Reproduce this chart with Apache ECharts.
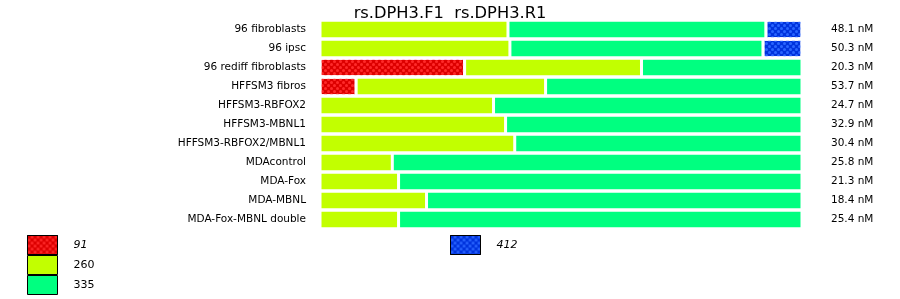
<!DOCTYPE html>
<html>
<head>
<meta charset="utf-8">
<script src="https://cdn.jsdelivr.net/npm/echarts@6/dist/echarts.min.js"></script>
<style>html,body{margin:0;padding:0;background:#fff}#c{width:900px;height:299px}</style>
</head>
<body>
<div id="c"></div>
<script>
var titleText = 'rs.DPH3.F1  rs.DPH3.R1';
var categories = ['96 fibroblasts','96 ipsc','96 rediff fibroblasts','HFFSM3 fibros','HFFSM3-RBFOX2','HFFSM3-MBNL1','HFFSM3-RBFOX2/MBNL1','MDAcontrol','MDA-Fox','MDA-MBNL','MDA-Fox-MBNL double'];
var concentrations = ['48.1 nM','50.3 nM','20.3 nM','53.7 nM','24.7 nM','32.9 nM','30.4 nM','25.8 nM','21.3 nM','18.4 nM','25.4 nM'];
var seriesNames = ['91','260','335','412'];
var s91  = [0, 0, 30.0, 7.5, 0, 0, 0, 0, 0, 0, 0];
var s260 = [39.0, 39.4, 36.7, 39.3, 36.0, 38.5, 40.4, 15.0, 16.3, 22.1, 16.3];
var s335 = [53.5, 52.5, 33.3, 53.2, 64.0, 61.5, 59.6, 85.0, 83.7, 77.9, 83.7];
var s412 = [7.5, 8.1, 0, 0, 0, 0, 0, 0, 0, 0, 0];

var FONT = 'DejaVu Sans';
var redDecal = { symbol: 'circle', symbolSize: 1, color: '#ff2a2a', dashArrayX: [[3, 3], [0, 3, 3, 0]], dashArrayY: [3, 0] };
var blueDecal = { symbol: 'circle', symbolSize: 1, color: '#2a66ff', dashArrayX: [[3, 3], [0, 3, 3, 0]], dashArrayY: [3, 0] };

var colors = ['#dd0000', '#c2ff00', '#00ff80', '#0033dd'];
var decals = [redDecal, null, null, blueDecal];
var dataArr = [s91, s260, s335, s412];

var series = seriesNames.map(function (n, i) {
  var st = { color: colors[i], borderColor: '#ffffff', borderWidth: 1.5 };
  if (decals[i]) st.decal = decals[i];
  return {
    name: n, type: 'bar', stack: 'all', barWidth: 18.5,
    data: dataArr[i].map(function (v) { return v === 0 ? null : v; }),
    itemStyle: st, emphasis: { disabled: true }, silent: true
  };
});

var legendBase = {
  orient: 'vertical', top: 235, height: 64, padding: 0,
  itemWidth: 30, itemHeight: 19, itemGap: 0,
  icon: 'rect', selectedMode: false,
  itemStyle: { borderColor: '#000', borderWidth: 1 },
  textStyle: { fontFamily: FONT, fontSize: 11, color: '#000', padding: [0, 0, 0, 11] }
};

var chart = echarts.init(document.getElementById('c'), null, { renderer: 'canvas' });
chart.setOption({
  animation: false,
  textStyle: { fontFamily: FONT },
  title: { text: titleText, left: 'center', top: 1,
           textStyle: { fontFamily: FONT, fontSize: 16.3, fontWeight: 'normal', color: '#000' } },
  grid: { left: 320, right: 98, top: 20, height: 209, containLabel: false },
  xAxis: { type: 'value', min: 0, max: 100, show: false },
  yAxis: [
    { type: 'category', data: categories, inverse: true,
      axisLine: { show: false }, axisTick: { show: false }, splitLine: { show: false },
      axisLabel: { margin: 14, color: '#000', fontFamily: FONT, fontSize: 10.5 } },
    { type: 'category', data: concentrations, inverse: true, position: 'right',
      axisLine: { show: false }, axisTick: { show: false }, splitLine: { show: false },
      axisLabel: { margin: 29, align: 'left', color: '#000', fontFamily: FONT, fontSize: 10.5 } }
  ],
  legend: [
    Object.assign({}, legendBase, { left: 27,
      data: [ { name: '91', textStyle: { fontStyle: 'italic' } }, '260', '335' ] }),
    Object.assign({}, legendBase, { left: 450,
      data: [ { name: '412', textStyle: { fontStyle: 'italic' } } ] })
  ],
  series: series
});
</script>
</body>
</html>
